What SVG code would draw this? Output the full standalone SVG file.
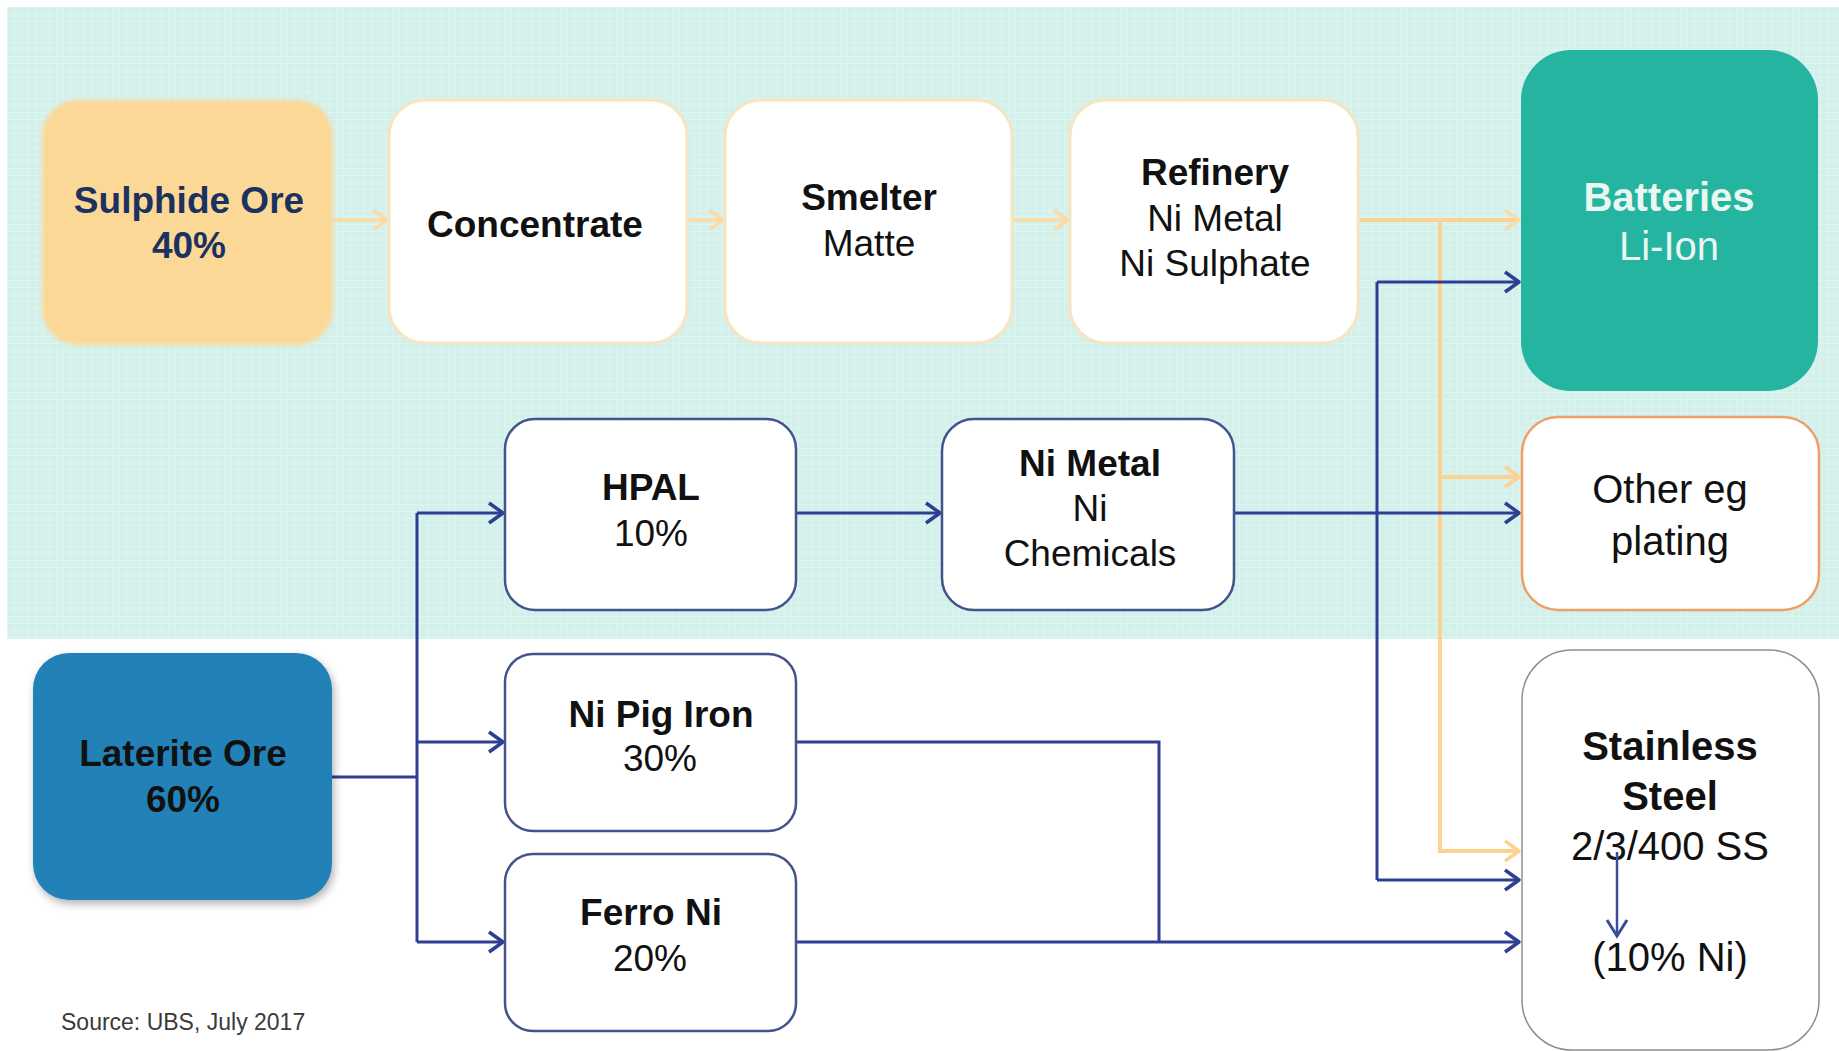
<svg xmlns="http://www.w3.org/2000/svg" width="1839" height="1051" viewBox="0 0 1839 1051">
<defs>
<style>
.t{font-family:"Liberation Sans",Arial,sans-serif;text-anchor:middle;fill:#111}
.b{font-weight:bold}
.s37{font-size:37px}
.s40{font-size:40px}
.blue{fill:none;stroke:#2E3F93;stroke-width:3}
.or{fill:none;stroke:#FDD290;stroke-width:4}
.orp{fill:none;stroke:#F8DDA9;stroke-width:4}
.wn{fill:#FFFFFF;stroke:#F7E4C0;stroke-width:3}
.bn{fill:#FFFFFF;stroke:#45538C;stroke-width:2.5}
</style>
<pattern id="grid" width="7" height="7" patternUnits="userSpaceOnUse">
<rect width="7" height="7" fill="#D3F0EB"/>
<path d="M0,0.5 H7 M0.5,0 V7" stroke="#DDF5F1" stroke-width="1"/>
</pattern>
<filter id="sh" x="-10%" y="-10%" width="125%" height="125%">
<feDropShadow dx="2" dy="4" stdDeviation="4" flood-color="#000" flood-opacity="0.3"/>
</filter>
<filter id="glow" x="-10%" y="-10%" width="120%" height="120%">
<feGaussianBlur stdDeviation="2"/>
</filter>
<marker id="ab" markerUnits="userSpaceOnUse" markerWidth="20" markerHeight="26" viewBox="0 0 20 26" refX="17" refY="13" orient="auto">
<path d="M3,3 L17,13 L3,23" fill="none" stroke="#2E3F93" stroke-width="3.5" stroke-linejoin="round"/>
</marker>
<marker id="ao" markerUnits="userSpaceOnUse" markerWidth="20" markerHeight="26" viewBox="0 0 20 26" refX="17" refY="13" orient="auto">
<path d="M3,3 L17,13 L3,23" fill="none" stroke="#FDD290" stroke-width="3.5" stroke-linejoin="round"/>
</marker>
<marker id="ap" markerUnits="userSpaceOnUse" markerWidth="20" markerHeight="26" viewBox="0 0 20 26" refX="17" refY="13" orient="auto">
<path d="M3,3 L17,13 L3,23" fill="none" stroke="#F8DDA9" stroke-width="3.5" stroke-linejoin="round"/>
</marker>
<marker id="as" markerUnits="userSpaceOnUse" markerWidth="26" markerHeight="24" viewBox="0 0 26 24" refX="13" refY="21" orient="0">
<path d="M3,5 L13,21 L23,5" fill="none" stroke="#3A4C96" stroke-width="3"/>
</marker>
</defs>

<rect width="1839" height="1051" fill="#FFFFFF"/>
<rect x="7" y="7" width="1832" height="632" fill="url(#grid)"/>

<g id="connectors">
<path class="orp" d="M333,220 H387" marker-end="url(#ap)"/>
<path class="orp" d="M687,220 H723" marker-end="url(#ap)"/>
<path class="orp" d="M1012,220 H1068" marker-end="url(#ap)"/>
<path class="or" d="M1358,220 H1519" marker-end="url(#ap)"/>
<path class="or" d="M1440,220 V851 H1519" marker-end="url(#ao)"/>
<path class="or" d="M1440,477 H1519" marker-end="url(#ao)"/>
<path class="blue" d="M332,777 H417"/>
<path class="blue" d="M417,513 V942"/>
<path class="blue" d="M417,513 H503" marker-end="url(#ab)"/>
<path class="blue" d="M417,742 H503" marker-end="url(#ab)"/>
<path class="blue" d="M417,942 H503" marker-end="url(#ab)"/>
<path class="blue" d="M796,513 H940" marker-end="url(#ab)"/>
<path class="blue" d="M1234,513 H1519" marker-end="url(#ab)"/>
<path class="blue" d="M1377,282 V880"/>
<path class="blue" d="M1377,282 H1519" marker-end="url(#ab)"/>
<path class="blue" d="M1377,880 H1519" marker-end="url(#ab)"/>
<path class="blue" d="M796,742 H1159 V942"/>
<path class="blue" d="M796,942 H1519" marker-end="url(#ab)"/>
</g>

<g id="sulphide-ore">
<rect x="42" y="100" width="291" height="245" rx="36" fill="#FCD896" filter="url(#glow)"/>
<text class="t b s37" x="189" y="213" style="fill:#1B3260">Sulphide Ore</text>
<text class="t b s37" x="189" y="258" style="fill:#1B3260">40%</text>
</g>

<g id="concentrate">
<rect class="wn" x="389" y="100" width="298" height="243" rx="36"/>
<text class="t b s37" x="535" y="237">Concentrate</text>
</g>

<g id="smelter">
<rect class="wn" x="725" y="100" width="287" height="243" rx="36"/>
<text class="t b s37" x="869" y="210">Smelter</text>
<text class="t s37" x="869" y="256">Matte</text>
</g>

<g id="refinery">
<rect class="wn" x="1070" y="100" width="288" height="243" rx="36"/>
<text class="t b s37" x="1215" y="185">Refinery</text>
<text class="t s37" x="1215" y="231">Ni Metal</text>
<text class="t s37" x="1215" y="276">Ni Sulphate</text>
</g>

<g id="batteries">
<rect x="1521" y="50" width="297" height="341" rx="50" fill="#24B49F"/>
<text class="t b s40" x="1669" y="211" style="fill:#E9F6F2">Batteries</text>
<text class="t s40" x="1669" y="260" style="fill:#E9F6F2">Li-Ion</text>
</g>

<g id="other">
<rect x="1522" y="417" width="297" height="193" rx="36" fill="#FFFFFF" stroke="#EFA066" stroke-width="2.5"/>
<text class="t s40" x="1670" y="503">Other eg</text>
<text class="t s40" x="1670" y="555">plating</text>
</g>

<g id="hpal">
<rect class="bn" x="505" y="419" width="291" height="191" rx="30"/>
<text class="t b s37" x="651" y="500">HPAL</text>
<text class="t s37" x="651" y="546">10%</text>
</g>

<g id="ni-metal">
<rect class="bn" x="942" y="419" width="292" height="191" rx="32"/>
<text class="t b s37" x="1090" y="476">Ni Metal</text>
<text class="t s37" x="1090" y="521">Ni</text>
<text class="t s37" x="1090" y="566">Chemicals</text>
</g>

<g id="laterite-ore">
<rect x="33" y="653" width="299" height="247" rx="36" fill="#2182B8" filter="url(#sh)"/>
<text class="t b s37" x="183" y="766">Laterite Ore</text>
<text class="t b s37" x="183" y="812">60%</text>
</g>

<g id="ni-pig-iron">
<rect class="bn" x="505" y="654" width="291" height="177" rx="28"/>
<text class="t b s37" x="661" y="727">Ni Pig Iron</text>
<text class="t s37" x="660" y="771">30%</text>
</g>

<g id="ferro-ni">
<rect class="bn" x="505" y="854" width="291" height="177" rx="28"/>
<text class="t b s37" x="651" y="925">Ferro Ni</text>
<text class="t s37" x="650" y="971">20%</text>
</g>

<g id="stainless-steel">
<rect x="1522" y="650" width="297" height="400" rx="50" fill="#FFFFFF" stroke="#8E8E8E" stroke-width="1.5"/>
<text class="t b s40" x="1670" y="760">Stainless</text>
<text class="t b s40" x="1670" y="810">Steel</text>
<text class="t s40" x="1670" y="860">2/3/400 SS</text>
<text class="t s40" x="1670" y="971">(10% Ni)</text>
<path d="M1617,852 V936" fill="none" stroke="#3A4C96" stroke-width="2.5" marker-end="url(#as)"/>
</g>

<text id="source" x="61" y="1030" style="font-family:'Liberation Sans',Arial,sans-serif;font-size:23px;fill:#3A3A3A">Source: UBS, July 2017</text>
</svg>
